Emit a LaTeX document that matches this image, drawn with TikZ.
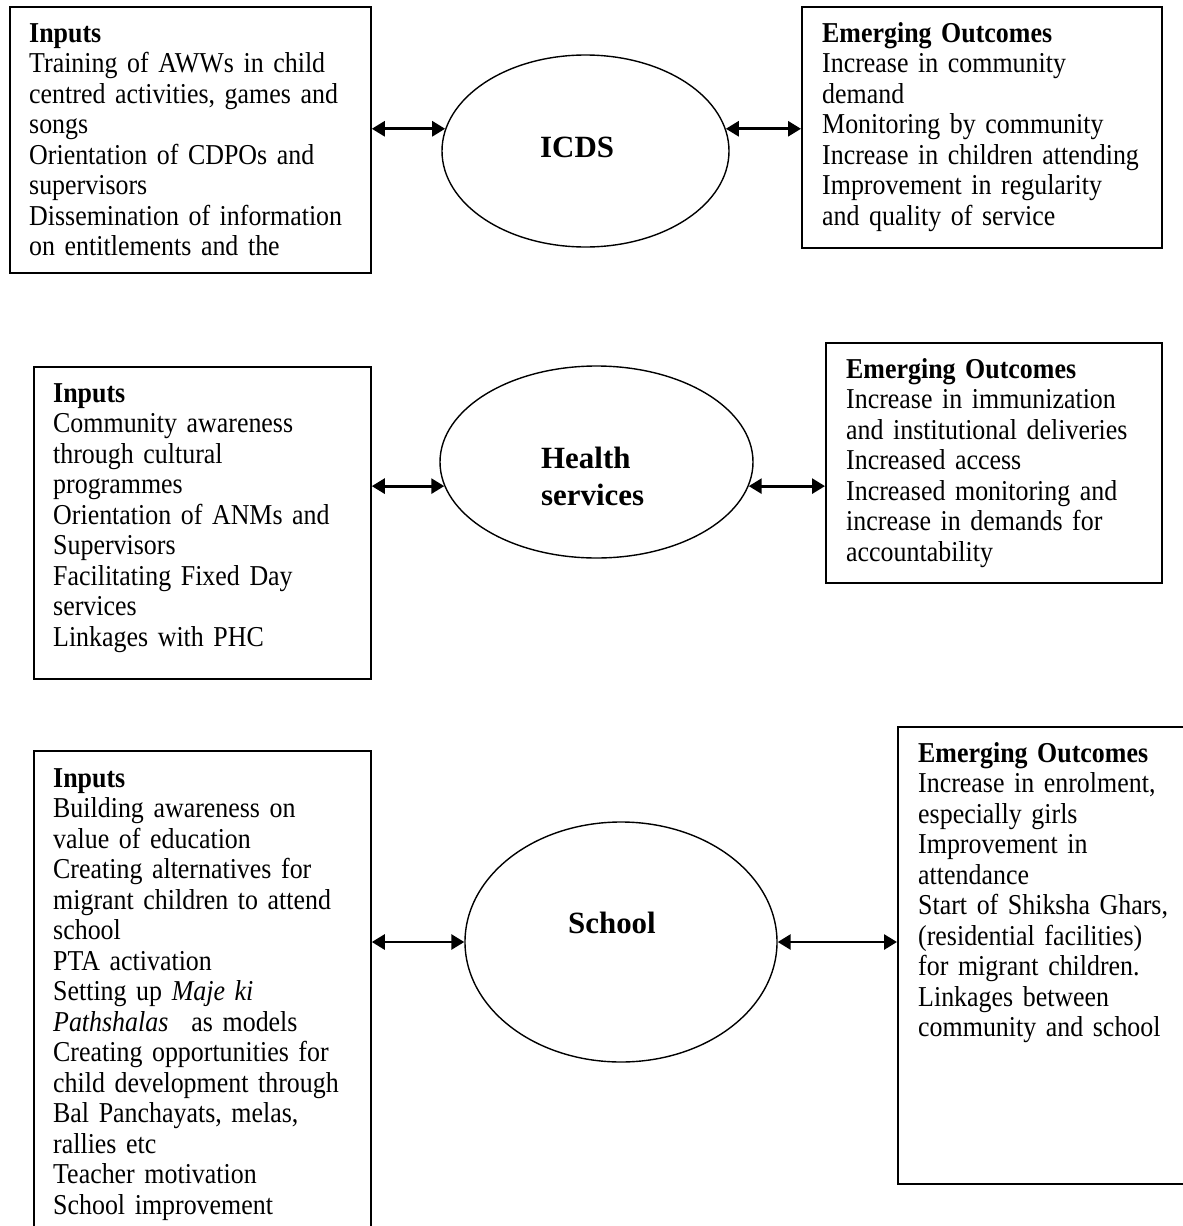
\documentclass[tikz,border=0pt]{standalone}
\usepackage{fontspec}
\setmainfont{Liberation Serif}[FakeStretch=0.9]
\newfontfamily\ellfont{Liberation Serif}
\usetikzlibrary{arrows.meta,shapes.geometric}
\tikzset{
  box/.style={draw, line width=1.8pt, inner sep=0pt, anchor=north west},
  ell/.style={draw, ellipse, line width=1.4pt, inner sep=0pt},
  txt/.style={anchor=base west, align=left, text width=420pt, inner sep=0pt,
    font=\fontsize{28.8}{30.5}\selectfont},
  etxt/.style={anchor=base west, align=left, text width=200pt, inner sep=0pt,
    font=\ellfont\fontsize{30.9}{37}\selectfont\bfseries},
  dbl/.style={{Triangle[length=13pt,width=15pt]}-{Triangle[length=13pt,width=15pt]}, line width=2.8pt}
}
\begin{document}
\begin{tikzpicture}[x=1pt,y=-1pt]
\useasboundingbox (0,0) rectangle (1183,1226);
\clip (0,0) rectangle (1183,1226);
\fill[white] (0,0) rectangle (1183,1226);

% ---------- Row 1: ICDS ----------
\node[box, minimum width=361pt, minimum height=266pt] (in1) at (9,6) {};
\node[txt] (in1t) at (29,42) {\textbf{Inputs}\\
Training of AWWs in child\\
centred activities, games and\\
songs\\
Orientation of CDPOs and\\
supervisors\\
Dissemination of information\\
on entitlements and the};

\node[ell, minimum width=287pt, minimum height=192pt] (e1) at (585.5,151) {};
\node[etxt] (e1t) at (540,157) {ICDS};

\node[box, minimum width=360pt, minimum height=241pt] (out1) at (801,6) {};
\node[txt] (out1t) at (822,42) {\textbf{Emerging Outcomes}\\
Increase in community\\
demand\\
Monitoring by community\\
Increase in children attending\\
Improvement in regularity\\
and quality of service};

\draw[dbl] (e1.171 -| in1.east) -- (e1.171);
\draw[dbl] (e1.9) -- (e1.9 -| out1.west);

% ---------- Row 2: Health services ----------
\node[box, minimum width=337pt, minimum height=312pt] (in2) at (33,366) {};
\node[txt] (in2t) at (53,402) {\textbf{Inputs}\\
Community awareness\\
through cultural\\
programmes\\
Orientation of ANMs and\\
Supervisors\\
Facilitating Fixed Day\\
services\\
Linkages with PHC};

\node[ell, minimum width=313pt, minimum height=192pt] (e2) at (596.5,462) {};
\node[etxt] (e2t) at (541,468) {Health\\services};

\node[box, minimum width=336pt, minimum height=240pt] (out2) at (825,342) {};
\node[txt] (out2t) at (846,378) {\textbf{Emerging Outcomes}\\
Increase in immunization\\
and institutional deliveries\\
Increased access\\
Increased monitoring and\\
increase in demands for\\
accountability};

\draw[dbl] (e2.189 -| in2.east) -- (e2.189);
\draw[dbl] (e2.351) -- (e2.351 -| out2.west);

% ---------- Row 3: School ----------
\node[box, minimum width=337pt, minimum height=520pt] (in3) at (33,750) {};
\node[txt] (in3t) at (53,787) {\textbf{Inputs}\\
Building awareness on\\
value of education\\
Creating alternatives for\\
migrant children to attend\\
school\\
PTA activation\\
Setting up \textit{Maje ki}\\
\textit{Pathshalas}\hspace*{0.8em}as models\\
Creating opportunities for\\
child development through\\
Bal Panchayats, melas,\\
rallies etc\\
Teacher motivation\\
School improvement};

\node[ell, minimum width=312pt, minimum height=240pt] (e3) at (621,942) {};
\node[etxt] (e3t) at (568,933) {School};

\node[box, minimum width=320pt, minimum height=457pt] (out3) at (897,726) {};
\node[txt] (out3t) at (918,762) {\textbf{Emerging Outcomes}\\
Increase in enrolment,\\
especially girls\\
Improvement in\\
attendance\\
Start of Shiksha Ghars,\\
(residential facilities)\\
for migrant children.\\
Linkages between\\
community and school};

\draw[dbl] (e3.west -| in3.east) -- (e3.west);
\draw[dbl] (e3.east) -- (e3.east -| out3.west);
\end{tikzpicture}
\end{document}
